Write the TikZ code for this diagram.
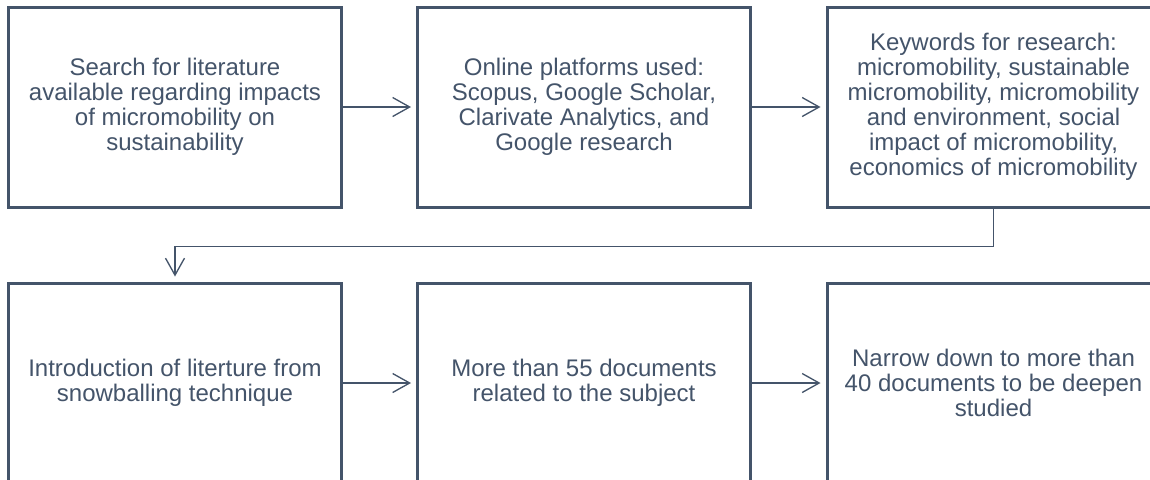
\documentclass[tikz,border=0pt]{standalone}
\usepackage{fontspec}
\setmainfont{Liberation Sans}
\usetikzlibrary{arrows.meta}
\definecolor{slate}{HTML}{44546A}
\begin{document}
\begin{tikzpicture}[x=0.75pt,y=-0.75pt,
  stepbox/.style={draw=slate, line width=2.25pt, fill=white,
    minimum width=249.75pt, minimum height=150pt, inner sep=0pt,
    align=center, text=slate, font=\fontsize{18}{18.7}\selectfont},
  flow/.style={draw=slate, line width=1pt, shorten >=3.75pt,
    -{Straight Barb[length=12.75pt, width=14.25pt, line width=1pt]}}]
\useasboundingbox (0,0) rectangle (1150,479);
\clip (0,0) rectangle (1150,479);

% top row
\node[stepbox] (search) at (175,107)
  {Search for literature\\available regarding impacts\\of micromobility on\\sustainability};
\node[stepbox] (platforms) at (584,107)
  {Online platforms used:\\Scopus, Google Scholar,\\Clarivate Analytics, and\\Google research};
\node[stepbox] (keywords) at (993.5,107)
  {Keywords for research:\\micromobility, sustainable\\micromobility, micromobility\\and environment, social\\impact of micromobility,\\economics of micromobility};

% bottom row
\node[stepbox] (snowball) at (175,383)
  {Introduction of literture from\\snowballing technique};
\node[stepbox] (docs) at (584,383)
  {More than 55 documents\\related to the subject};
\node[stepbox] (narrow) at (993.5,383)
  {Narrow down to more than\\40 documents to be deepen\\studied};

% connectors
\draw[flow] (search) -- (platforms);
\draw[flow] (platforms) -- (keywords);
\draw[flow] (keywords.south) -- ++(0,38) -| (snowball.north);
\draw[flow] (snowball) -- (docs);
\draw[flow] (docs) -- (narrow);
\end{tikzpicture}
\end{document}
